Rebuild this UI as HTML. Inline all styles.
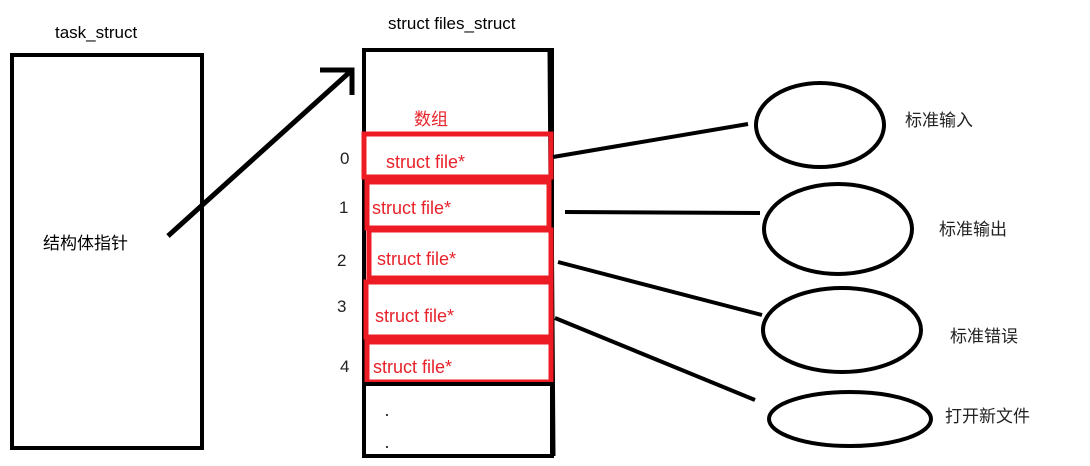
<!DOCTYPE html>
<html><head><meta charset="utf-8"><style>
body{margin:0;background:#fff}
svg text{font-family:"Liberation Sans","Noto Sans CJK SC",sans-serif;font-size:17px}
svg text.r{font-size:18px}
</style></head><body>
<svg width="1090" height="461" xmlns="http://www.w3.org/2000/svg">
<rect x="12" y="55" width="190" height="393" fill="none" stroke="#000" stroke-width="4"/>
<text x="55" y="38">task_struct</text>
<text x="43" y="249">结构体指针</text>
<polyline points="168,236 352,70" fill="none" stroke="#000" stroke-width="5"/>
<polyline points="320,70 352,70 352,95" fill="none" stroke="#000" stroke-width="5"/>
<text x="388" y="29">struct files_struct</text>
<rect x="364" y="50" width="188" height="406" fill="none" stroke="#000" stroke-width="4"/>
<line x1="550" y1="50" x2="553" y2="456" stroke="#000" stroke-width="5"/>
<text x="414" y="125" fill="#e8222a">数组</text>
<g fill="none" stroke="#ed1c24" stroke-width="5">
<rect x="364" y="134" width="187" height="43"/>
<rect x="367" y="182" width="182" height="46"/>
<rect x="369" y="230" width="182" height="48"/>
<rect x="366" y="282" width="185" height="55"/>
<rect x="367" y="342" width="184" height="40"/>
</g>
<line x1="362" y1="384" x2="554" y2="384" stroke="#000" stroke-width="4"/>
<g fill="#e8222a">
<text class="r" x="386" y="168">struct file*</text>
<text class="r" x="372" y="214">struct file*</text>
<text class="r" x="377" y="265">struct file*</text>
<text class="r" x="375" y="322">struct file*</text>
<text class="r" x="373" y="373">struct file*</text>
</g>
<g fill="#222">
<text x="340" y="164">0</text>
<text x="339" y="213">1</text>
<text x="337" y="266">2</text>
<text x="337" y="312">3</text>
<text x="340" y="372">4</text>
</g>
<circle cx="387" cy="415" r="1" fill="#000"/>
<circle cx="387" cy="447" r="1" fill="#000"/>
<g stroke="#000" stroke-width="4" fill="none">
<line x1="553" y1="157" x2="748" y2="124"/>
<line x1="565" y1="212" x2="760" y2="213"/>
<line x1="558" y1="262" x2="762" y2="315"/>
<line x1="555" y1="318" x2="755" y2="400"/>
<ellipse cx="820" cy="125" rx="64" ry="42"/>
<ellipse cx="838" cy="229" rx="74" ry="45"/>
<ellipse cx="842" cy="330" rx="79" ry="42"/>
<ellipse cx="850" cy="419" rx="81" ry="27"/>
</g>
<g fill="#222">
<text x="905" y="126">标准输入</text>
<text x="939" y="235">标准输出</text>
<text x="950" y="342">标准错误</text>
<text x="945" y="422">打开新文件</text>
</g>
</svg>
</body></html>
